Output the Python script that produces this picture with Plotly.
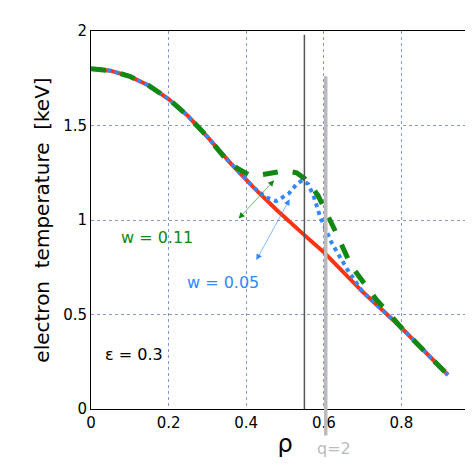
import plotly.graph_objects as go

rho_red = [0.0, 0.05, 0.1, 0.15, 0.2, 0.25, 0.3, 0.36, 0.42, 0.48, 0.55, 0.6, 0.7, 0.8, 0.92]
te_red = [1.80, 1.79, 1.76, 1.71, 1.64, 1.55, 1.44, 1.30, 1.17, 1.05, 0.92, 0.83, 0.62, 0.43, 0.18]

rho_blue = [0.0, 0.05, 0.1, 0.15, 0.2, 0.25, 0.3, 0.36, 0.42, 0.45, 0.477, 0.51, 0.53, 0.544, 0.56, 0.575, 0.59, 0.62, 0.66, 0.70, 0.8, 0.92]
te_blue = [1.80, 1.79, 1.76, 1.71, 1.64, 1.55, 1.44, 1.30, 1.17, 1.12, 1.10, 1.14, 1.19, 1.21, 1.19, 1.12, 1.02, 0.88, 0.74, 0.62, 0.43, 0.18]

rho_green = [0.0, 0.05, 0.1, 0.15, 0.2, 0.25, 0.3, 0.353, 0.38, 0.406, 0.44, 0.47, 0.50, 0.53, 0.55, 0.57, 0.585, 0.63, 0.67, 0.735, 0.8, 0.92]
te_green = [1.80, 1.79, 1.76, 1.71, 1.64, 1.55, 1.44, 1.31, 1.27, 1.24, 1.24, 1.25, 1.26, 1.25, 1.22, 1.17, 1.13, 0.94, 0.76, 0.58, 0.43, 0.18]

FONT = "DejaVu Sans"

fig = go.Figure()
fig.add_trace(go.Scatter(x=rho_red, y=te_red, mode="lines", line=dict(color="#ff3311", width=4)))
fig.add_trace(go.Scatter(x=rho_blue, y=te_blue, mode="lines", line=dict(color="#3388ff", width=4, dash="dot")))
fig.add_trace(go.Scatter(x=rho_green, y=te_green, mode="lines", line=dict(color="#118811", width=5, dash="dash")))

# island edge and q=2 surface
fig.add_shape(type="line", x0=0.55, x1=0.55, yref="paper", y0=0, y1=0.99, line=dict(color="#555555", width=1.5))
fig.add_shape(type="line", x0=0.605, x1=0.605, yref="paper", y0=-0.07, y1=0.88, line=dict(color="#bbbbbb", width=3.5))

fig.add_annotation(x=0.472, y=1.21, ax=0.377, ay=1.0, xref="x", yref="y", axref="x", ayref="y",
                   text="", showarrow=True, arrowhead=2, arrowside="end+start", arrowsize=2,
                   arrowwidth=0.6, arrowcolor="#118811")
fig.add_annotation(x=0.512, y=1.11, ax=0.424, ay=0.78, xref="x", yref="y", axref="x", ayref="y",
                   text="", showarrow=True, arrowhead=2, arrowside="end+start", arrowsize=2,
                   arrowwidth=0.6, arrowcolor="#3388ff")
fig.add_annotation(x=0.17, y=0.91, text="w = 0.11", showarrow=False, font=dict(family=FONT, size=16, color="#118811"))
fig.add_annotation(x=0.34, y=0.67, text="w = 0.05", showarrow=False, font=dict(family=FONT, size=16, color="#3388ff"))
fig.add_annotation(x=0.11, y=0.29, text="ε = 0.3", showarrow=False, font=dict(family=FONT, size=16, color="black"))
fig.add_annotation(x=0.625, yref="paper", y=-0.135, text="q=2", showarrow=False,
                   font=dict(family=FONT, size=16, color="#bbbbbb"))

grid = dict(showgrid=True, gridcolor="#8899cc", griddash="dot", gridwidth=1, showline=True, linecolor="black",
            mirror=True, ticks="", zeroline=False, automargin=False,
            tickfont=dict(family=FONT, size=15, color="black"))
fig.update_xaxes(range=[0, 1], tickvals=[0, 0.2, 0.4, 0.6, 0.8, 1],
                 ticktext=["0", "0.2", "0.4", "0.6", "0.8", "1"], **grid,
                 title=dict(text="ρ", font=dict(family=FONT, size=24, color="black"), standoff=4))
fig.update_yaxes(range=[0, 2], tickvals=[0, 0.5, 1, 1.5, 2], ticktext=["0", "0.5", "1", "1.5", "2"], **grid,
                 title=dict(text="electron  temperature  [keV]", font=dict(family=FONT, size=20, color="black"), standoff=8))
fig.update_layout(width=473, height=467, margin=dict(l=83, r=2, t=23, b=66, autoexpand=False), showlegend=False,
                  plot_bgcolor="white", paper_bgcolor="white")
fig.write_html("out.html")
